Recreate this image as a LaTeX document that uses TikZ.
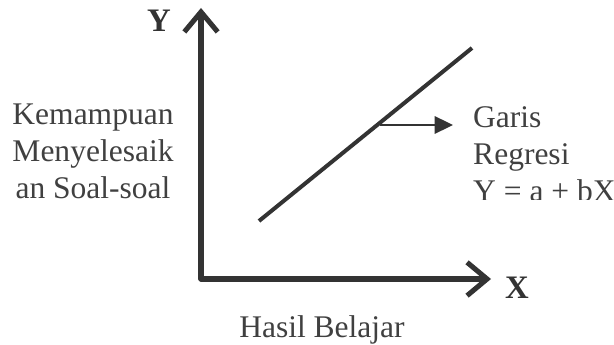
\documentclass[tikz,border=0pt]{standalone}
\usepackage{fontspec}
\setmainfont{Liberation Serif}
\usetikzlibrary{arrows.meta}
\begin{document}
\begin{tikzpicture}[x=0.03cm,y=-0.03cm,
	axis/.style={line width=4.3pt,line cap=round,line join=round,color=black!80,
		-{Straight Barb[length=0.6cm,width=1.0cm,line width=4.3pt]}},
	regline/.style={line width=3.4pt,color=black!80},
	pointer/.style={line width=2pt,color=black!80,-{Triangle[length=0.55cm,width=0.52cm]}},
	lbl/.style={inner sep=0pt,color=black!75,font=\fontsize{26.9}{31.6}\selectfont},
	axlbl/.style={inner sep=0pt,color=black!80,font=\fontsize{28}{30}\selectfont\bfseries}]
	\useasboundingbox (0,0) rectangle (614,345);
	\coordinate (o) at (201,279);
	\coordinate (ytip) at (201,8);
	\coordinate (xtip) at (491,279);
	\draw[axis] (o) -- (ytip);
	\draw[axis] (o) -- (xtip);
	\node[axlbl,anchor=base] (ylab) at (159,32) {Y};
	\node[axlbl,anchor=base] (xlab) at (517,299) {X};
	\coordinate (rstart) at (259,221);
	\coordinate (rend) at (472,48);
	\draw[regline] (rstart) -- (rend);
	\coordinate (pstart) at (380,125);
	\coordinate (pend) at (453,125);
	\draw[pointer] (pstart) -- (pend);
	% last line base sits at the cut
	\begin{scope}
		\clip (0,0) rectangle (614,200);
		\node[lbl,align=center,anchor=base] (kemampuan) at (93,199)
			{Kemampuan\\Menyelesaik\\an Soal-soal};
		\node[lbl,align=left,anchor=base west] (garis) at (473,202)
			{Garis\\Regresi\\Y = a + bX};
	\end{scope}
	\node[lbl,anchor=base] (hasil) at (322,338) {Hasil Belajar};
\end{tikzpicture}
\end{document}
